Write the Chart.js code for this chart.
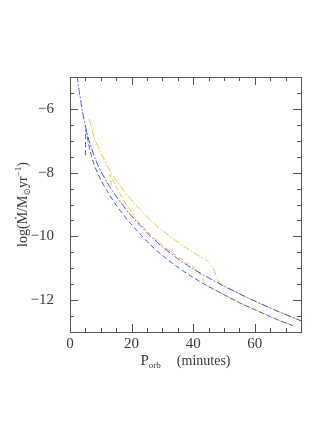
<!DOCTYPE html>
<html>
<head>
<meta charset="utf-8">
<script src="https://cdn.jsdelivr.net/npm/chart.js@4.4.1/dist/chart.umd.min.js"></script>
<style>
  html, body { margin: 0; padding: 0; background: #fff; }
</style>
</head>
<body>
<canvas id="Chart" width="314" height="445"></canvas>
<script>
// Axis ranges and tick labels
var xMin = 0, xMax = 75;
var xTicks = [0, 20, 40, 60];
var yMin = -13, yMax = -5;
var yTicks = [-12, -10, -8, -6];

// Blue dash-dot track (P in minutes, log Mdot)
var blueDotDashP   = [2.3, 3.0, 4.0, 4.9, 6.5, 9.2, 12, 15, 19, 22.7, 26, 30, 35, 40, 45, 50, 55, 60, 67, 75];
var blueDotDashLog = [-4.95, -5.45, -6.05, -6.5, -7.1, -7.8, -8.3, -8.75, -9.25, -9.65, -9.98, -10.33, -10.7, -11.02, -11.3, -11.56, -11.8, -12.03, -12.33, -12.65];

// Blue dashed track
var blueDashP   = [5.0, 5.05, 5.1, 5.4, 6.5, 8.1, 10, 12, 15, 19, 22.7, 26, 30, 35, 40, 45, 50, 55, 60, 67, 72.4];
var blueDashLog = [-7.45, -7.0, -6.66, -6.78, -7.3, -7.82, -8.22, -8.57, -9.02, -9.52, -9.92, -10.25, -10.6, -10.97, -11.29, -11.57, -11.83, -12.08, -12.3, -12.6, -12.8];

// Yellow dash-dot track
var yellowDotDashP   = [6.25, 7, 8, 9.7, 11.9, 15, 19, 22.7, 26, 30, 35, 38.9, 42, 45, 46.5, 47.7, 48.8, 50, 55, 60, 67, 75];
var yellowDotDashLog = [-6.3, -6.6, -6.95, -7.3, -7.75, -8.25, -8.75, -9.15, -9.47, -9.82, -10.18, -10.43, -10.62, -10.8, -11.0, -11.3, -11.5, -11.56, -11.8, -12.03, -12.33, -12.65];

// Yellow dashed track
var yellowDashP   = [13.4, 13.1, 13.0, 13.6, 14.6, 17, 19, 22.7, 26, 30, 35, 38.9, 40.5, 42, 43.3, 44.5, 45, 50, 55, 60, 67, 72.4];
var yellowDashLog = [-8.4, -8.15, -8.06, -8.15, -8.38, -8.8, -9.1, -9.6, -9.93, -10.28, -10.64, -10.88, -11.0, -11.15, -11.38, -11.55, -11.58, -11.83, -12.08, -12.3, -12.6, -12.8];

var blue = '#5050dc';
var yellow = '#f0c23a';
var ink = '#3a3a3a';
var fontFam = '"Liberation Serif", "DejaVu Serif", serif';

function toPoints(xs, ys) {
  return xs.map(function(v, i) { return { x: v, y: ys[i] }; });
}

function track(xs, ys, color, dash) {
  return {
    data: toPoints(xs, ys),
    showLine: true,
    borderColor: color,
    borderWidth: 1,
    borderDash: dash,
    pointRadius: 0,
    tension: 0.25,
    fill: false
  };
}

// draw text made of pieces (sub/superscripts, fixed gaps)
function drawPieces(ctx, pieces, cx, cy) {
  var total = 0;
  pieces.forEach(function(p) {
    if (p.gap) { p.w = p.gap; }
    else {
      ctx.font = p.size + 'px ' + fontFam;
      p.w = ctx.measureText(p.t).width;
    }
    total += p.w;
  });
  var x = cx - total / 2;
  pieces.forEach(function(p) {
    if (!p.gap) {
      ctx.font = p.size + 'px ' + fontFam;
      ctx.fillText(p.t, x, cy + (p.dy || 0));
    }
    x += p.w;
  });
}

// frame with inward ticks on all sides, plus axis titles
var frameTicks = {
  id: 'frameTicks',
  afterDraw: function(chart) {
    var ctx = chart.ctx, a = chart.chartArea;
    var sx = chart.scales.x, sy = chart.scales.y;
    ctx.save();
    ctx.strokeStyle = '#555';
    ctx.lineWidth = 1;
    ctx.strokeRect(Math.round(a.left) + 0.5, Math.round(a.top) + 0.5,
                   Math.round(a.right - a.left), Math.round(a.bottom - a.top));
    ctx.beginPath();
    for (var v = xMin; v <= xMax + 0.001; v += 5) {
      var px = Math.round(sx.getPixelForValue(v)) + 0.5;
      var len = xTicks.indexOf(v) >= 0 ? 8 : 4;
      ctx.moveTo(px, a.bottom); ctx.lineTo(px, a.bottom - len);
      ctx.moveTo(px, a.top); ctx.lineTo(px, a.top + len);
    }
    for (var w = yMin; w <= yMax + 0.001; w += 0.5) {
      var py = Math.round(sy.getPixelForValue(w)) + 0.5;
      var ln = yTicks.indexOf(w) >= 0 ? 8 : 4;
      ctx.moveTo(a.left, py); ctx.lineTo(a.left + ln, py);
      ctx.moveTo(a.right, py); ctx.lineTo(a.right - ln, py);
    }
    ctx.stroke();

    ctx.fillStyle = ink;
    ctx.textBaseline = 'alphabetic';
    ctx.textAlign = 'left';
    drawPieces(ctx, [
      { t: 'P', size: 15 },
      { t: 'orb', size: 9, dy: 3 },
      { gap: 16 },
      { t: '(minutes)', size: 14 }
    ], (a.left + a.right) / 2, 365);

    ctx.translate(27, (a.top + a.bottom) / 2);
    ctx.rotate(-Math.PI / 2);
    drawPieces(ctx, [
      { t: 'log(\u1E40/M', size: 14 },
      { t: '\u2299', size: 9, dy: 3 },
      { t: 'yr', size: 14 },
      { t: '\u22121', size: 9, dy: -6 },
      { t: ')', size: 14 }
    ], 0, 0);
    ctx.restore();
  }
};

var chart = document.getElementById('Chart');
var myChart = new Chart(chart, {
  type: 'scatter',
  data: {
    datasets: [
      track(blueDotDashP, blueDotDashLog, blue, [7, 2, 1.5, 2]),
      track(blueDashP, blueDashLog, blue, [5, 3]),
      track(yellowDotDashP, yellowDotDashLog, yellow, [7, 2, 1.5, 2]),
      track(yellowDashP, yellowDashLog, yellow, [5, 3])
    ]
  },
  options: {
    responsive: false,
    animation: false,
    layout: { padding: { top: 77, right: 13, bottom: 83, left: 0 } },
    plugins: { legend: { display: false }, tooltip: { enabled: false } },
    scales: {
      x: {
        type: 'linear', min: xMin, max: xMax,
        afterBuildTicks: function(s) { s.ticks = xTicks.map(function(v) { return { value: v }; }); },
        afterFit: function(s) { s.height = 30; },
        grid: { display: false },
        border: { display: false },
        ticks: {
          color: ink, padding: -5, maxRotation: 0, autoSkip: false,
          font: { family: fontFam, size: 15 },
          callback: function(v) { return String(v); }
        }
      },
      y: {
        type: 'linear', min: yMin, max: yMax,
        afterBuildTicks: function(s) { s.ticks = yTicks.map(function(v) { return { value: v }; }); },
        afterFit: function(s) { s.width = 70; },
        grid: { display: false },
        border: { display: false },
        ticks: {
          color: ink, padding: 8, autoSkip: false,
          font: { family: fontFam, size: 15 },
          callback: function(v) { return (v < 0 ? '\u2212' : '') + Math.abs(v); }
        }
      }
    }
  },
  plugins: [frameTicks]
});
</script>
</body>
</html>
